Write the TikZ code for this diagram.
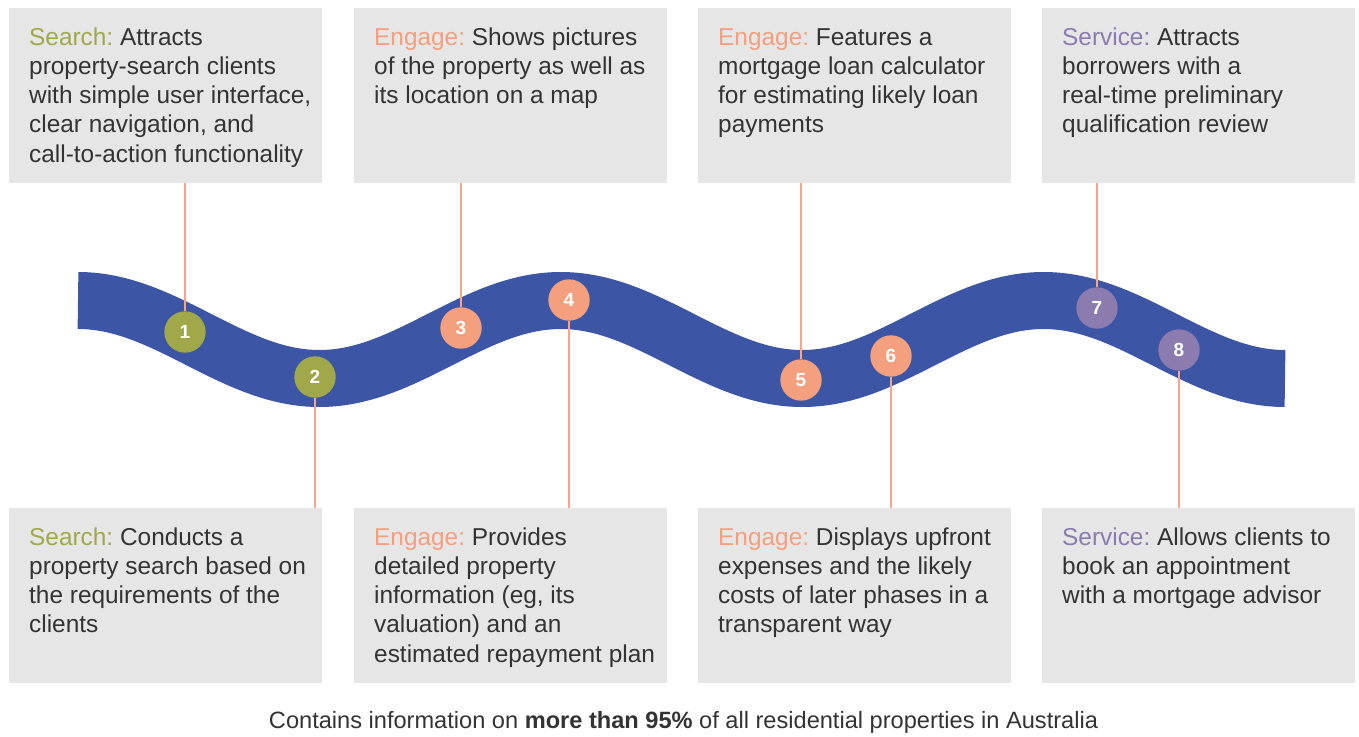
\documentclass[tikz,border=0pt]{standalone}
\usepackage{fontspec}
\setmainfont{Liberation Sans}
\frenchspacing
\definecolor{wave}{HTML}{3C55A5}
\definecolor{srch}{HTML}{A0A84A}
\definecolor{eng}{HTML}{F4A07F}
\definecolor{serv}{HTML}{8C7BAE}
\definecolor{boxgray}{HTML}{E6E6E6}
\definecolor{txt}{HTML}{333333}
\definecolor{conn}{HTML}{F4A58A}
\newcommand{\desctext}[1]{\parbox[t]{300pt}{\fontsize{24.4}{29.3}\selectfont\raggedright\frenchspacing\leavevmode #1}}
\tikzset{
 panel/.style={fill=boxgray, draw=none, minimum width=313pt, minimum height=175pt, anchor=north west, inner sep=0pt},
 desc/.style={anchor=base west, inner sep=0pt, text=txt},
 dot/.style={circle, minimum size=41.4pt, inner sep=0pt, text=white, font=\fontsize{19}{19}\selectfont\bfseries},
 connector/.style={draw=conn, line width=2.2pt},
}
\begin{document}
\begin{tikzpicture}[x=1pt,y=-1pt]
\useasboundingbox (0,0) rectangle (1359,736);
% wave band
\draw[wave, line width=57pt] plot[domain=78:1285, samples=300] (\x, {339.5-39*cos((\x-78)*0.745650)});
% panels
\node[panel] (b1) at (9,8) {};
\node[panel] (b3) at (354,8) {};
\node[panel] (b5) at (698,8) {};
\node[panel] (b7) at (1042,8) {};
\node[panel] (b2) at (9,508) {};
\node[panel] (b4) at (354,508) {};
\node[panel] (b6) at (698,508) {};
\node[panel] (b8) at (1042,508) {};
% texts
\node[desc] (t1) at (29,45) {\desctext{{\color{srch}Search:} Attracts\\property-search clients\\with simple user interface,\\clear navigation, and\\call-to-action functionality}};
\node[desc] (t3) at (374,45) {\desctext{{\color{eng}Engage:} Shows pictures\\of the property as well as\\its location on a map}};
\node[desc] (t5) at (718,45) {\desctext{{\color{eng}Engage:} Features a\\mortgage loan calculator\\for estimating likely loan\\payments}};
\node[desc] (t7) at (1062,45) {\desctext{{\color{serv}Service:} Attracts\\borrowers with a\\real-time preliminary\\qualification review}};
\node[desc] (t2) at (29,545) {\desctext{{\color{srch}Search:} Conducts a\\property search based on\\the requirements of the\\clients}};
\node[desc] (t4) at (374,545) {\desctext{{\color{eng}Engage:} Provides\\detailed property\\information (eg, its\\valuation) and an\\estimated repayment plan}};
\node[desc] (t6) at (718,545) {\desctext{{\color{eng}Engage:} Displays upfront\\expenses and the likely\\costs of later phases in a\\transparent way}};
\node[desc] (t8) at (1062,545) {\desctext{{\color{serv}Service:} Allows clients to\\book an appointment\\with a mortgage advisor}};
% circles
\node[dot, fill=srch] (c1) at (185,332) {1};
\node[dot, fill=srch] (c2) at (315,377) {2};
\node[dot, fill=eng] (c3) at (461,328) {3};
\node[dot, fill=eng] (c4) at (569,300) {4};
\node[dot, fill=eng] (c5) at (801,380) {5};
\node[dot, fill=eng] (c6) at (891,356) {6};
\node[dot, fill=serv] (c7) at (1097,308) {7};
\node[dot, fill=serv] (c8) at (1179,350) {8};
% connectors
\draw[connector] (b1.south -| c1) -- (c1);
\draw[connector] (b3.south -| c3) -- (c3);
\draw[connector] (b5.south -| c5) -- (c5);
\draw[connector] (b7.south -| c7) -- (c7);
\draw[connector] (c2) -- (b2.north -| c2);
\draw[connector] (c4) -- (b4.north -| c4);
\draw[connector] (c6) -- (b6.north -| c6);
\draw[connector] (c8) -- (b8.north -| c8);
% caption
\node[anchor=base, text=txt, inner sep=0pt, font=\fontsize{23.6}{28}\selectfont] (cap) at (683.5,728) {Contains information on \textbf{more than 95\%} of all residential properties in Australia};
\end{tikzpicture}
\end{document}
